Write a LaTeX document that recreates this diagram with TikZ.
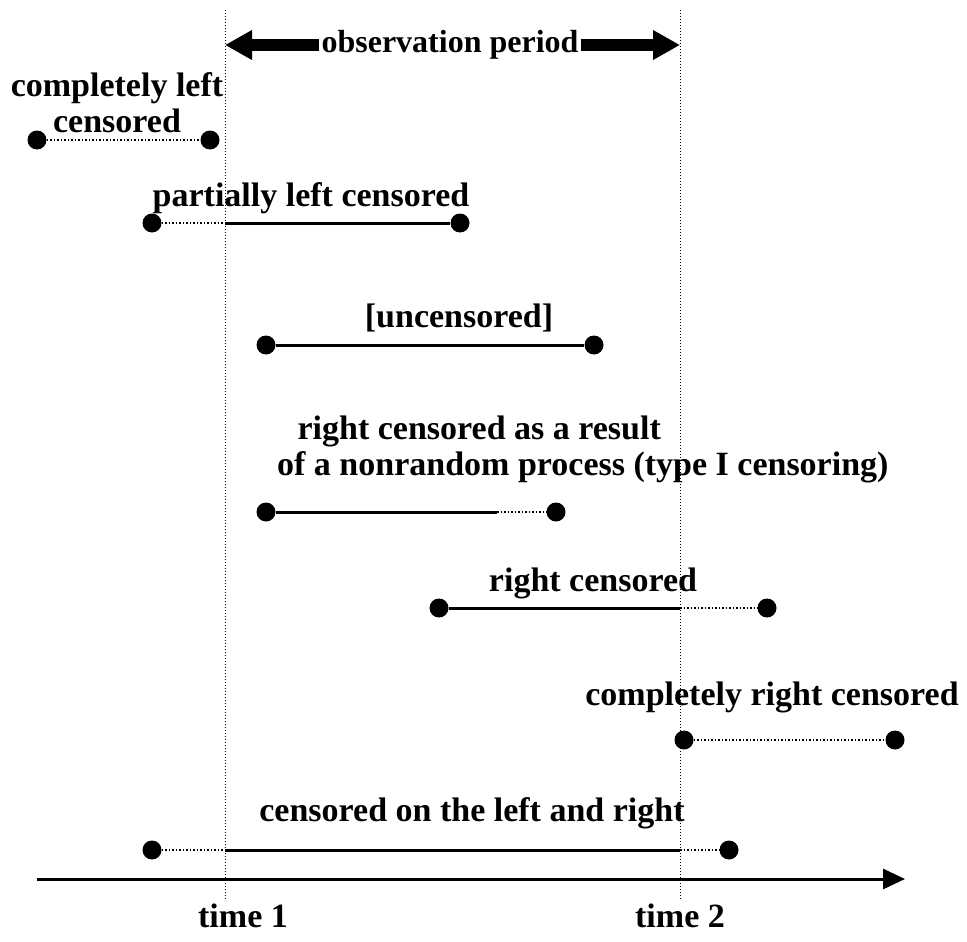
\documentclass[tikz,border=0pt]{standalone}
\usepackage{fontspec}
\setmainfont{Liberation Serif}
\usetikzlibrary{arrows.meta, positioning, calc}

\begin{document}
\begin{tikzpicture}[
  x=1pt, y=-1pt,
  font=\fontsize{34}{36}\selectfont\bfseries,
  dot/.style={circle, fill=black, inner sep=0pt, minimum size=19pt},
  lbl/.style={inner sep=0pt, align=center},
  obs/.style={line width=3pt},
  cens/.style={dotted, line width=1.5pt},
  bound/.style={dotted, line width=1pt},
  bigarrow/.style={line width=12pt, -{Triangle[length=27pt, width=28pt]}},
  axis/.style={line width=3pt, -{Triangle[length=22pt, width=20pt]}}
]
  \useasboundingbox (0,0) rectangle (967,942);

  % time 1 and time 2
  \coordinate (t1top) at (225,10);
  \coordinate (t1bot) at (225,900);
  \coordinate (t2top) at (680,10);
  \coordinate (t2bot) at (680,900);
  \draw[bound] (t1top) -- (t1bot);
  \draw[bound] (t2top) -- (t2bot);

  \node[lbl, font=\fontsize{32}{34}\selectfont\bfseries] (obs) at (450,45) {observation period};
  \draw[bigarrow] ([xshift=-2pt]obs.west) -- (obs -| t1top);
  \draw[bigarrow] ([xshift=2pt]obs.east) -- (obs -| t2top);

  % completely left censored
  \node[lbl] (l1) at (117,103) {completely left\\censored};
  \node[dot] (a1) at (37,140) {};
  \node[dot] (b1) at (210,140) {};
  \draw[cens] (a1) -- (b1);

  % partially left censored
  \node[lbl] (l2) at (311,198) {partially left censored};
  \node[dot] (a2) at (152,223) {};
  \node[dot] (b2) at (460,223) {};
  \coordinate (c2) at (t1top |- a2);
  \draw[cens] (a2) -- (c2);
  \draw[obs] (c2) -- (b2);

  % uncensored
  \node[lbl] (l3) at (459,318) {[uncensored]};
  \node[dot] (a3) at (266,345) {};
  \node[dot] (b3) at (594,345) {};
  \draw[obs] (a3) -- (b3);

  % type I censoring
  \node[lbl, align=left, anchor=west] (l4) at (277,449)
    {\hspace*{0.6em}right censored as a result\\of a nonrandom process (type I censoring)};
  \node[dot] (a4) at (266,512) {};
  \node[dot] (b4) at (556,512) {};
  \coordinate (c4) at (497,512);
  \draw[obs] (a4) -- (c4);
  \draw[cens] (c4) -- (b4);

  % right censored
  \node[lbl] (l5) at (593,583) {right censored};
  \node[dot] (a5) at (439,608) {};
  \node[dot] (b5) at (767,608) {};
  \coordinate (c5) at (t2top |- a5);
  \draw[obs] (a5) -- (c5);
  \draw[cens] (c5) -- (b5);

  % completely right censored
  \node[lbl] (l6) at (772,697) {completely right censored};
  \node[dot] (a6) at (684,740) {};
  \node[dot] (b6) at (895,740) {};
  \draw[cens] (a6) -- (b6);

  % both sides
  \node[lbl] (l7) at (472,813) {censored on the left and right};
  \node[dot] (a7) at (152,850) {};
  \node[dot] (b7) at (729,850) {};
  \coordinate (c7l) at (t1top |- a7);
  \coordinate (c7r) at (t2top |- a7);
  \draw[cens] (a7) -- (c7l);
  \draw[obs] (c7l) -- (c7r);
  \draw[cens] (c7r) -- (b7);

  % time axis
  \coordinate (ax0) at (37,879);
  \coordinate (ax1) at (905,879);
  \draw[axis] (ax0) -- (ax1);
  \node[lbl] (time1) at (243,916) {time 1};
  \node[lbl] (time2) at (680,916) {time 2};
\end{tikzpicture}
\end{document}
